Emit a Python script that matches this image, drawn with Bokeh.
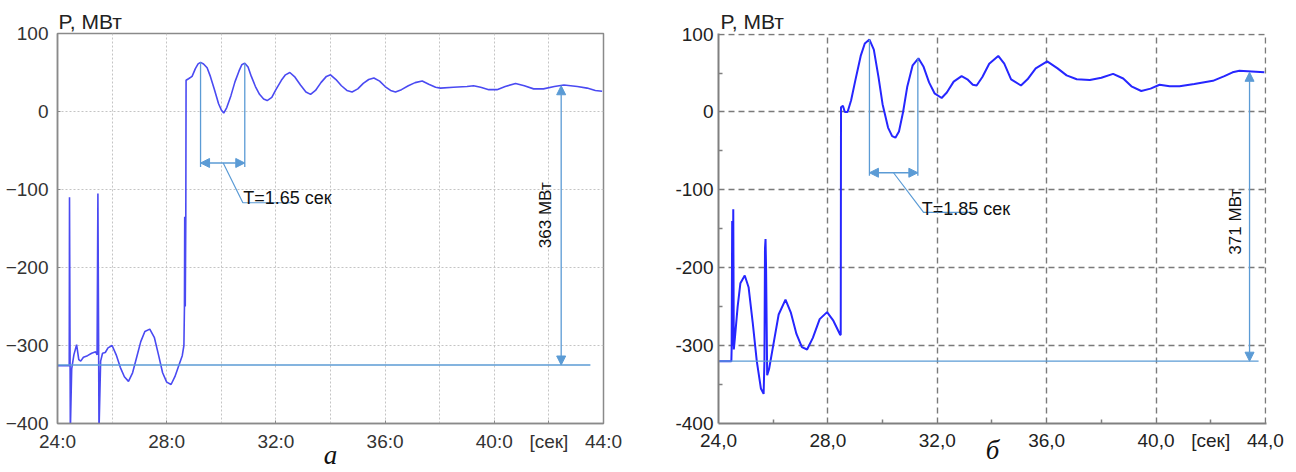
from math import pi
from bokeh.plotting import figure
from bokeh.layouts import row
from bokeh.models import Range1d, FixedTicker, Label, Arrow, NormalHead, ColumnDataSource, Title
from bokeh.embed import file_html
from bokeh.resources import INLINE

# ---------------- data: panel "а" ----------------
t_a = [24.0, 24.42, 24.43, 24.44, 24.47, 24.52, 24.6, 24.7, 24.78, 24.85, 24.95, 25.1, 25.25, 25.4,
       25.45, 25.48, 25.50, 25.52, 25.58, 25.65, 25.75, 25.85, 26.0, 26.15, 26.3, 26.45, 26.6, 26.75,
       26.9, 27.05, 27.2, 27.38, 27.55, 27.7, 27.85, 28.0, 28.16, 28.3, 28.45, 28.57, 28.63, 28.65,
       28.66, 28.68, 28.70, 28.71, 28.8, 28.93, 29.05, 29.15, 29.24, 29.35, 29.48, 29.6, 29.75, 29.9,
       30.0, 30.09, 30.2, 30.35, 30.5, 30.65, 30.75, 30.86, 30.98, 31.1, 31.25, 31.4, 31.55, 31.68,
       31.85, 32.0, 32.2, 32.35, 32.51, 32.7, 32.9, 33.1, 33.27, 33.45, 33.65, 33.85, 34.0, 34.2,
       34.4, 34.6, 34.79, 35.0, 35.2, 35.4, 35.59, 35.8, 36.0, 36.2, 36.38, 36.6, 36.85, 37.1, 37.36,
       37.6, 37.85, 38.03, 38.5, 39.0, 39.24, 39.5, 39.8, 40.1, 40.4, 40.78, 41.1, 41.44, 41.8, 42.2,
       42.55, 43.04, 43.4, 43.7, 43.95]
p_a = [-326, -326, -326, -110, -410, -330, -312, -299, -318, -320, -315, -313, -310, -308,
       -312, -105, -250, -410, -320, -310, -309, -303, -300, -312, -328, -340, -346, -335,
       -315, -295, -282, -279, -290, -312, -335, -347, -350, -340, -325, -313, -300, -251,
       -135, -250, -134, 40, 42, 45, 55, 61, 63, 61, 56, 45, 28, 10,
       2, -2, 5, 20, 38, 52, 60, 62, 57, 45, 32, 22, 16, 14,
       18, 28, 40, 47, 50, 44, 34, 25, 22, 27, 37, 45, 47, 41,
       33, 27, 25, 29, 36, 41, 43, 39, 32, 27, 25, 28, 33, 37, 39,
       35, 31, 30, 31, 32, 33, 31, 28, 28, 32, 36, 33, 29, 29, 32,
       34, 32, 30, 27, 26]

# ---------------- data: panel "б" ----------------
t_b = [24.0, 24.46, 24.47, 24.48, 24.50, 24.52, 24.54, 24.56, 24.6, 24.7, 24.8, 24.96, 25.1, 25.25,
       25.4, 25.55, 25.65, 25.68, 25.70, 25.72, 25.74, 25.78, 25.85, 26.0, 26.2, 26.45, 26.65, 26.85,
       27.05, 27.24, 27.45, 27.7, 27.97, 28.2, 28.45, 28.47, 28.48, 28.55, 28.62, 28.72, 28.85, 29.0,
       29.2, 29.35, 29.52, 29.68, 29.85, 30.0, 30.2, 30.35, 30.47, 30.6, 30.75, 30.9, 31.1, 31.31,
       31.5, 31.7, 31.9, 32.16, 32.35, 32.6, 32.89, 33.1, 33.3, 33.44, 33.65, 33.9, 34.23, 34.45,
       34.7, 35.06, 35.3, 35.6, 36.02, 36.4, 36.73, 37.1, 37.58, 38.0, 38.43, 38.8, 39.1, 39.46,
       39.8, 40.13, 40.5, 40.86, 41.4, 42.08, 42.5, 42.8, 43.05, 43.5, 43.96]
p_b = [-320, -320, -320, -305, -140, -300, -125, -305, -290, -250, -220, -210, -225, -270,
       -320, -355, -362, -320, -175, -163, -200, -338, -330, -300, -260, -241, -258, -285,
       -302, -305, -290, -266, -257, -268, -286, -286, 6, 8, 0, 0, 15, 40,
       72, 88, 93, 80, 45, 10, -20, -31, -33, -25, 0, 32, 60, 69,
       58, 38, 24, 18, 25, 39, 46, 42, 35, 34, 45, 62, 72, 62,
       42, 34, 42, 56, 65, 56, 47, 42, 41, 44, 49, 43, 33, 27,
       30, 35, 33, 33, 36, 40, 46, 51, 53, 52, 51]

# ---------------- ticks ----------------
x_ticks = [24, 28, 32, 36, 40, 42, 44]
x_minor = [26, 30, 34, 38, 42]
x_labels_a = ["24:0", "28:0", "32:0", "36:0", "40:0", "[сек]", "44:0"]
x_labels_b = ["24,0", "28,0", "32,0", "36,0", "40,0", "[сек]", "44,0"]
x_grid_a = [24, 26, 28, 30, 32, 34, 36, 38, 40, 42, 44]
x_grid_b = [24, 28, 32, 36, 40, 44]
y_ticks = [-400, -300, -200, -100, 0, 100]
y_minor = [-350, -250, -150, -50, 50]
y_labels_a = ["\u2212400", "\u2212300", "\u2212200", "\u2212100", "0", "100"]
y_labels_b = ["-400", "-300", "-200", "-100", "0", "100"]

# ---------------- annotation values ----------------
base_a, top_a, meas_t_a, base_end_a = -325, 33, 42.45, 43.52
per_t_a, per_p_a, per_arrow_a, per_low_a = [29.24, 30.86], [63, 62], -66, -71
lead_a = ([30.07, 30.79, 32.78], [-66, -117, -117])
txt_a = "T=1.65 сек"
meas_txt_a = "363 МВт"

base_b, top_b, meas_t_b, base_end_b = -320, 51, 43.42, 43.75
per_t_b, per_p_b, per_arrow_b, per_low_b = [29.52, 31.29], [93, 69], -78, -82
lead_b = ([30.40, 31.50, 33.38], [-78, -129, -129])
txt_b = "T=1.85 сек"
meas_txt_b = "371 МВт"

ANN = "#5b9bd5"
FONT = "Liberation Sans"


def head():
    return NormalHead(size=9, fill_color=ANN, line_color=ANN, line_width=1)


def make(width, mb_left, mb_right, mb_top, t, pv, xl, yl, style):
    if style == "a":
        xr, yr = Range1d(24, 44), Range1d(-400, 100)
    else:
        xr, yr = Range1d(24, 44.04), Range1d(-400, 100.8)
    p = figure(width=width, height=472, x_range=xr, y_range=yr,
               output_backend="svg", toolbar_location=None,
               min_border_left=mb_left, min_border_right=mb_right,
               min_border_top=mb_top, min_border_bottom=49)
    p.background_fill_color = "white"
    p.border_fill_color = "white"
    p.xaxis.ticker = FixedTicker(ticks=x_ticks, minor_ticks=x_minor)
    p.yaxis.ticker = FixedTicker(ticks=y_ticks, minor_ticks=y_minor)
    p.xaxis.major_label_overrides = dict(zip(x_ticks, xl))
    p.yaxis.major_label_overrides = dict(zip(y_ticks, yl))
    for ax in (p.xaxis, p.yaxis):
        ax.major_label_text_font = FONT
        ax.major_label_text_font_size = "19px"
        ax.major_tick_out = 0
    p.yaxis.major_label_standoff = 5
    if style == "a":
        p.xaxis.major_label_standoff = 3
        p.outline_line_color = "#8a8a8a"
        p.outline_line_width = 1.5
        for ax in (p.xaxis, p.yaxis):
            ax.axis_line_color = "#8a8a8a"
            ax.axis_line_width = 1.5
            ax.major_tick_in = 3
            ax.major_tick_line_color = "#8a8a8a"
            ax.minor_tick_line_color = None
            ax.major_label_text_color = "#333333"
        p.xgrid.ticker = FixedTicker(ticks=x_grid_a)
        p.ygrid.ticker = FixedTicker(ticks=y_ticks)
        for g in (p.xgrid, p.ygrid):
            g.grid_line_color = "#c4c4c4"
            g.grid_line_dash = "2 2"
            g.grid_line_width = 1
        col, lw = "#4a4af2", 1.6
    else:
        p.xaxis.major_label_standoff = 6
        p.outline_line_color = None
        for ax in (p.xaxis, p.yaxis):
            ax.axis_line_color = "#808080"
            ax.axis_line_width = 2
            ax.major_tick_in = 0
            ax.minor_tick_in = 4
            ax.minor_tick_out = 0
            ax.minor_tick_line_color = "#808080"
            ax.minor_tick_line_width = 1.5
            ax.major_label_text_color = "#222222"
        p.xgrid.ticker = FixedTicker(ticks=x_grid_b)
        p.ygrid.ticker = FixedTicker(ticks=y_ticks)
        for g in (p.xgrid, p.ygrid):
            g.grid_line_color = "#7a7a7a"
            g.grid_line_dash = "6 4"
            g.grid_line_width = 1.4
        col, lw = "#2626ff", 2
    src = ColumnDataSource(data=dict(t=t, p=pv))
    p.line("t", "p", source=src, line_color=col, line_width=lw)
    return p


def annotate(p, base, top, meas_t, base_end, per_t, per_p, per_arrow, per_low, lead, txt,
             txt_x, txt_y, meas_txt, meas_x, meas_y, title_off, cap, cap_standoff):
    p.line([24, base_end], [base, base], line_color=ANN, line_width=1.3)
    p.add_layout(Arrow(start=head(), end=head(), x_start=meas_t, y_start=base, x_end=meas_t,
                       y_end=top, line_color=ANN, line_width=1.3))
    for tt, pp in zip(per_t, per_p):
        p.line([tt, tt], [pp, per_low], line_color=ANN, line_width=1.3)
    p.add_layout(Arrow(start=head(), end=head(), x_start=per_t[0], y_start=per_arrow,
                       x_end=per_t[1], y_end=per_arrow, line_color=ANN, line_width=1.5))
    p.line(lead[0], lead[1], line_color=ANN, line_width=1.2)
    p.add_layout(Label(x=txt_x, y=txt_y, text=txt, text_font=FONT, text_font_size="18px",
                       text_color="#111111", text_align="left", text_baseline="alphabetic"))
    p.add_layout(Label(x=meas_x, y=meas_y, text=meas_txt, text_font=FONT, text_font_size="17px",
                       text_color="#111111", text_align="center", text_baseline="middle",
                       angle=pi / 2))
    p.add_layout(Title(text="P, МВт", text_font=FONT, text_font_size="21px",
                       text_font_style="normal", text_color="#222222", align="left",
                       offset=title_off, standoff=2), "above")
    p.xaxis.axis_label = cap
    p.xaxis.axis_label_text_font = "Liberation Serif"
    p.xaxis.axis_label_text_font_style = "italic"
    p.xaxis.axis_label_text_font_size = "27px"
    p.xaxis.axis_label_text_color = "#111111"
    p.xaxis.axis_label_standoff = cap_standoff


pa = make(650, 57, 47, 32, t_a, p_a, x_labels_a, y_labels_a, "a")
annotate(pa, base_a, top_a, meas_t_a, base_end_a, per_t_a, per_p_a, per_arrow_a, per_low_a,
         lead_a, txt_a, 30.80, -111, meas_txt_a, 41.87, -133, 1, "а", -15)

pb = make(646, 68, 30, 33, t_b, p_b, x_labels_b, y_labels_b, "b")
annotate(pb, base_b, top_b, meas_t_b, base_end_b, per_t_b, per_p_b, per_arrow_b, per_low_b,
         lead_b, txt_b, 31.43, -125, meas_txt_b, 42.92, -141, 2, "б", -19)

layout = row(pa, pb)
open("out.html", "w").write(file_html(layout, INLINE))
